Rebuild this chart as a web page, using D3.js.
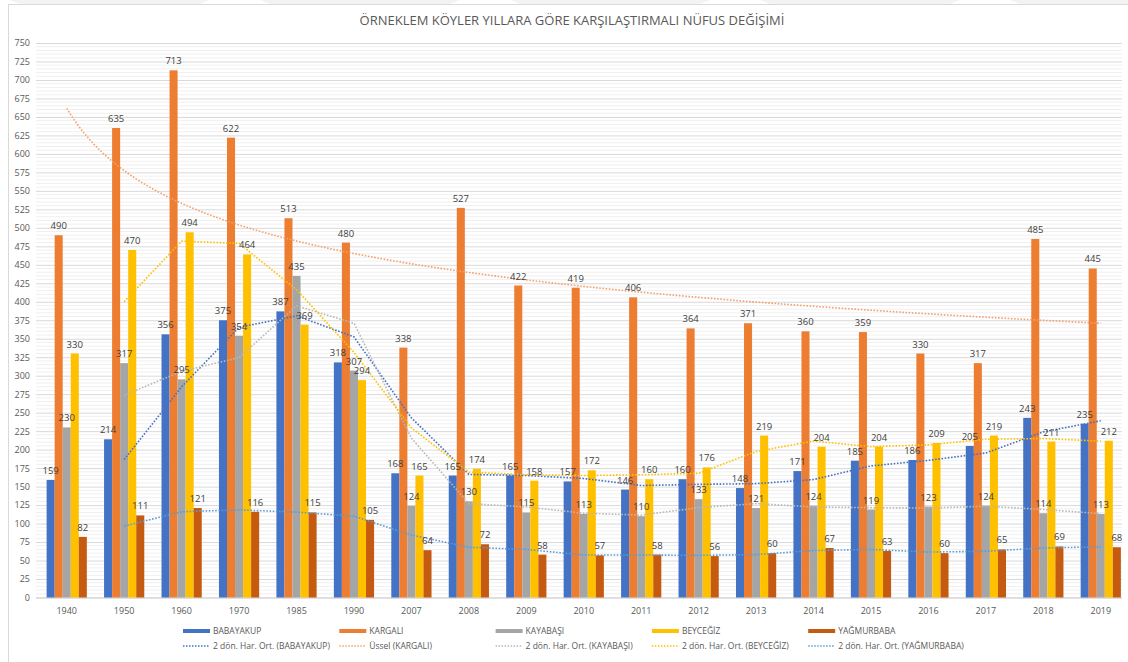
<!DOCTYPE html>
<html><head><meta charset="utf-8">
<script src="https://cdn.jsdelivr.net/npm/d3@7"></script>
<style>body{margin:0;background:#fff}svg{display:block}</style>
</head><body>
<script>
const years = ["1940","1950","1960","1970","1985","1990","2007","2008","2009","2010","2011","2012","2013","2014","2015","2016","2017","2018","2019"];
const babayakup = [159,214,356,375,387,318,168,165,165,157,146,160,148,171,185,186,205,243,235];
const kargali   = [490,635,713,622,513,480,338,527,422,419,406,364,371,360,359,330,317,485,445];
const kayabasi  = [230,317,295,354,435,307,124,130,115,113,110,133,121,124,119,123,124,114,113];
const beyceğiz  = [330,470,494,464,369,294,165,174,158,172,160,176,219,204,204,209,219,211,212];
const yagmurbaba= [82,111,121,116,115,105,64,72,58,57,58,56,60,67,63,60,65,69,68];
const seriesNames = ["BABAYAKUP","KARGALI","KAYABAŞI","BEYCEĞİZ","YAĞMURBABA"];
const trendNames = ["2 dön. Har. Ort. (BABAYAKUP)","Üssel (KARGALI)","2 dön. Har. Ort. (KAYABAŞI)","2 dön. Har. Ort. (BEYCEĞİZ)","2 dön. Har. Ort. (YAĞMURBABA)"];
const yTicks = d3.range(0, 751, 25);
const title = "ÖRNEKLEM KÖYLER YILLARA GÖRE KARŞILAŞTIRMALI NÜFUS DEĞİŞİMİ";

const barColors = ["#4472C4","#ED7D31","#A5A5A5","#FFC000","#C55A11"];
const lineColors = ["#4472C4","#F4A06A","#B8B8B8","#FFC000","#5B9BD5"];
const allSeries = [babayakup,kargali,kayabasi,beyceğiz,yagmurbaba];

const W=1128,H=662;
const svg=d3.select("body").append("svg").attr("width",W).attr("height",H);
const font="'Open Sans', sans-serif";

// decorative frame
const deco=svg.append("g");
[[10,0],[260,0],[510,0],[760,0],[1010,0]].forEach(([x])=>{
  deco.append("path").attr("d",`M${x},0 L${x+200},0 L${x+190},4 L${x+10},4 Z`).attr("fill","#f3f3f3");
});
svg.append("line").attr("x1",8).attr("x2",W).attr("y1",4.5).attr("y2",4.5).attr("stroke","#d9d9d9");
svg.append("line").attr("x1",8.5).attr("x2",8.5).attr("y1",4).attr("y2",H).attr("stroke","#d9d9d9");

const x0=d3.scaleBand().domain(years).range([38,1129.5]).paddingInner(0.3).paddingOuter(0.15);
const xc = d=> x0(d)+x0.bandwidth()/2;
const y=d3.scaleLinear().domain([0,750]).range([597.5,43]);

// minor gridlines
const g=svg.append("g");
d3.range(0,751,5).filter(v=>v%25!==0).forEach(v=>{
  g.append("line").attr("x1",36).attr("x2",1122).attr("y1",y(v)).attr("y2",y(v)).attr("stroke","#f0f0f0").attr("stroke-width",1);
});
const yAxis=d3.axisLeft(y).tickValues(yTicks).tickSize(-(1122-36)).tickPadding(6);
const ya=svg.append("g").attr("transform","translate(36,0)").call(yAxis);
ya.select(".domain").remove();
ya.selectAll(".tick line").attr("stroke","#d9d9d9");
ya.selectAll(".tick text").attr("fill","#595959").attr("font-size","9px").attr("font-family",font);
ya.selectAll(".tick").filter(d=>d===0).select("line").attr("stroke","#bfbfbf");

// x axis
const xa=svg.append("g").attr("transform",`translate(0,${y(0)})`).call(d3.axisBottom(x0).tickSize(0).tickPadding(10));
xa.select(".domain").remove();
xa.selectAll(".tick text").attr("fill","#595959").attr("font-size","9px").attr("font-family",font);

// bars
const x1=d3.scaleBand().domain(d3.range(5)).range([0,x0.bandwidth()]);
const bars=svg.append("g");
years.forEach((yr,i)=>{
  allSeries.forEach((s,k)=>{
    bars.append("rect").attr("x",x0(yr)+x1(k)).attr("width",x1.bandwidth())
      .attr("y",y(s[i])).attr("height",y(0)-y(s[i])).attr("fill",barColors[k]);
  });
});

// moving averages & trend
const line=d3.line().x(d=>d[0]).y(d=>y(d[1]));
function ma(s){return s.slice(1).map((v,i)=>[xc(years[i+1]),(v+s[i])/2]);}
// power regression for KARGALI (ln y = ln a + b ln x)
const lx=kargali.map((v,i)=>Math.log(i+1)), ly=kargali.map(v=>Math.log(v));
const mx=d3.mean(lx), my=d3.mean(ly);
const b=d3.sum(lx.map((v,i)=>(v-mx)*(ly[i]-my)))/d3.sum(lx.map(v=>(v-mx)*(v-mx)));
const a=Math.exp(my-b*mx);
const trendPts=d3.range(1,19.001,0.1).map(t=>[xc(years[0])+(t-1)*x0.step(),a*Math.pow(t,b)]);
const lines=[ma(babayakup),trendPts,ma(kayabasi),ma(beyceğiz),ma(yagmurbaba)];
lines.forEach((pts,k)=>{
  svg.append("path").attr("d",line(pts)).attr("fill","none").attr("stroke",lineColors[k])
    .attr("stroke-width",1.6).attr("stroke-dasharray","1.6,1.6");
});

// labels
const lab=svg.append("g").attr("font-family",font).attr("font-size","9.5px").attr("fill","#404040").attr("text-anchor","middle");
years.forEach((yr,i)=>{
  allSeries.forEach((s,k)=>{
    lab.append("text").attr("x",x0(yr)+x1(k)+x1.bandwidth()/2).attr("y",y(s[i])-6).text(s[i]);
  });
});

// title
svg.append("text").attr("x",572).attr("y",25).attr("text-anchor","middle").attr("font-family",font)
  .attr("font-size","13px").attr("fill","#595959").text(title);

// legend
const lg=svg.append("g").attr("font-family",font).attr("font-size","8.5px").attr("fill","#595959");
seriesNames.forEach((n,k)=>{
  const lx0=183+k*156.3;
  lg.append("rect").attr("x",lx0).attr("y",629).attr("width",27).attr("height",4).attr("fill",barColors[k]);
  lg.append("text").attr("x",lx0+30).attr("y",634).text(n);
  lg.append("line").attr("x1",lx0).attr("x2",lx0+27).attr("y1",646).attr("y2",646).attr("stroke",lineColors[k]).attr("stroke-width",1.4).attr("stroke-dasharray","1.5,1.5");
  lg.append("text").attr("x",lx0+30).attr("y",649).text(trendNames[k]);
});
</script>
</body></html>
